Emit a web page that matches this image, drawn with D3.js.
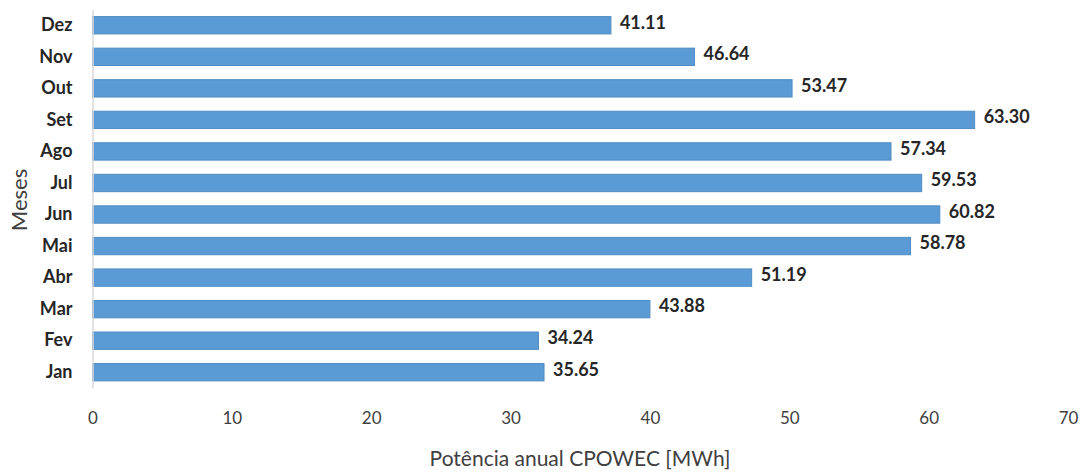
<!DOCTYPE html>
<html>
<head>
<meta charset="utf-8">
<script src="https://cdn.jsdelivr.net/npm/d3@7"></script>
<style>
  body { margin: 0; background: #fff; }
  svg text { font-family: Lato, "Open Sans", sans-serif; }
</style>
</head>
<body>
<svg id="chart" width="1085" height="472"></svg>
<script>
// months, top to bottom as drawn
var months = ["Dez", "Nov", "Out", "Set", "Ago", "Jul", "Jun", "Mai", "Abr", "Mar", "Fev", "Jan"];
// bar lengths as drawn in the picture (MWh)
var barValues = [37.2, 43.2, 50.2, 63.3, 57.3, 59.5, 60.8, 58.7, 47.3, 40.0, 32.0, 32.4];
// data labels printed next to each bar
var labelTexts = ["41.11", "46.64", "53.47", "63.30", "57.34", "59.53", "60.82", "58.78", "51.19", "43.88", "34.24", "35.65"];
var xTicks = [0, 10, 20, 30, 40, 50, 60, 70];

var svg = d3.select("#chart");
var plotLeft = 92.5, plotRight = 1068, plotTop = 9.5, plotBottom = 388;

var x = d3.scaleLinear().domain([0, 70]).range([plotLeft, plotRight]);
var y = d3.scaleBand().domain(months).range([plotTop, plotBottom]).paddingInner(0.45).paddingOuter(0.225);

var rows = months.map(function (m, i) {
  return { month: m, value: barValues[i], label: labelTexts[i] };
});

// bars
svg.append("g").selectAll("rect")
  .data(rows)
  .enter().append("rect")
  .attr("x", x(0))
  .attr("y", function (d) { return y(d.month); })
  .attr("width", function (d) { return x(d.value) - x(0); })
  .attr("height", y.bandwidth())
  .style("fill", "#5b9bd5")
  .style("stroke", "#4f8cc4")
  .style("stroke-width", 1);

// vertical category axis
var yAxis = svg.append("g")
  .attr("transform", "translate(" + plotLeft + ",0)")
  .call(d3.axisLeft(y).tickSize(0).tickPadding(20));
yAxis.select(".domain").attr("stroke", "#d9d9d9").attr("stroke-width", 1.5);
yAxis.selectAll("text")
  .style("font-size", "18px")
  .style("font-weight", "bold")
  .style("fill", "#262626");

// value axis, labels only
var xAxis = svg.append("g")
  .attr("transform", "translate(0," + plotBottom + ")")
  .call(d3.axisBottom(x).tickValues(xTicks).tickSize(0).tickPadding(24));
xAxis.select(".domain").remove();
xAxis.selectAll("text")
  .style("font-size", "17px")
  .style("fill", "#404040");

// data labels
svg.append("g").selectAll("text")
  .data(rows)
  .enter().append("text")
  .attr("x", function (d) { return x(d.value) + 9; })
  .attr("y", function (d) { return y(d.month) + y.bandwidth() / 2 - 3; })
  .attr("dy", "0.35em")
  .text(function (d) { return d.label; })
  .style("font-size", "18px")
  .style("font-weight", "bold")
  .style("fill", "#262626");

// axis titles
svg.append("text")
  .attr("x", 580)
  .attr("y", 466)
  .attr("text-anchor", "middle")
  .text("Potência anual CPOWEC [MWh]")
  .style("font-size", "21px")
  .style("fill", "#404040");

svg.append("text")
  .attr("transform", "translate(27,200) rotate(-90)")
  .attr("text-anchor", "middle")
  .text("Meses")
  .style("font-size", "22px")
  .style("fill", "#404040");
</script>
</body>
</html>
